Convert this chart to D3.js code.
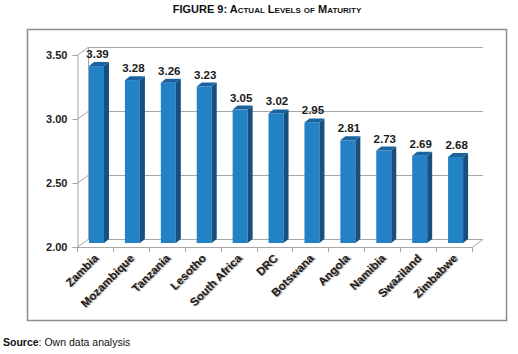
<!DOCTYPE html>
<html>
<head>
<meta charset="utf-8" />
<script src="https://d3js.org/d3.v7.min.js"></script>
<style>
  body { margin: 0; background: #fff; }
  svg { display: block; font-family: Arial, "Liberation Sans", sans-serif; }
</style>
</head>
<body>
<div id="visu"></div>
<script>
  // Données
  const pays = ["Zambia", "Mozambique", "Tanzania", "Lesotho", "South Africa", "DRC",
                "Botswana", "Angola", "Namibia", "Swaziland", "Zimbabwe"];
  const niveaux = [3.39, 3.28, 3.26, 3.23, 3.05, 3.02, 2.95, 2.81, 2.73, 2.69, 2.68];
  const graduations = [2.00, 2.50, 3.00, 3.50];

  const largeur = 518, hauteur = 354;
  const prof = {dx: 11, dy: -8}; // profondeur 3D

  const svg = d3.select('#visu').append('svg')
    .attr('width', largeur).attr('height', hauteur);

  // Titre
  svg.append('text')
    .attr('x', 267).attr('y', 13)
    .attr('text-anchor', 'middle')
    .attr('font-size', 11).attr('font-weight', 'bold')
    .style('font-variant', 'small-caps')
    .attr('fill', '#111')
    .text('FIGURE 9: Actual Levels of Maturity');

  // Cadre
  svg.append('rect')
    .attr('x', 27.5).attr('y', 29.5).attr('width', 479).attr('height', 291)
    .attr('fill', '#fff').attr('stroke', '#8c8c8c').attr('stroke-width', 1.5);

  // Echelles (face avant)
  const x = d3.scaleBand().domain(pays).range([77, 472]).paddingInner(0).paddingOuter(0);
  const y = d3.scaleLinear().domain([2, 3.5]).range([247, 55]);

  const grille = svg.append('g').attr('stroke', '#a6a6a6').attr('fill', 'none').attr('stroke-width', 1);

  // Mur du fond et lignes de grille
  graduations.forEach(v => {
    const yy = Math.round(y(v)) + 0.5;
    grille.append('line')
      .attr('x1', 77 + prof.dx).attr('x2', 472 + prof.dx)
      .attr('y1', yy + prof.dy).attr('y2', yy + prof.dy);
    grille.append('line')
      .attr('x1', 77).attr('x2', 77 + prof.dx)
      .attr('y1', yy).attr('y2', yy + prof.dy);
  });
  // Mur gauche
  grille.append('line')
    .attr('x1', 77 + prof.dx + 0.5).attr('x2', 77 + prof.dx + 0.5)
    .attr('y1', y(3.5) + prof.dy).attr('y2', y(2) + prof.dy);
  // Sol
  grille.append('line')
    .attr('x1', 472).attr('x2', 472 + prof.dx)
    .attr('y1', y(2) + 0.5).attr('y2', y(2) + 0.5 + prof.dy);

  // Axe Y
  const axeY = d3.axisLeft(y).tickValues(graduations).tickFormat(d3.format('.2f')).tickSize(5).tickPadding(5);
  svg.append('g')
    .attr('transform', 'translate(77.5,0)')
    .call(axeY)
    .call(g => g.select('.domain').attr('stroke', '#a6a6a6'))
    .call(g => g.selectAll('.tick line').attr('stroke', '#a6a6a6'))
    .call(g => g.selectAll('text').attr('font-size', 11).attr('font-weight', 'bold')
      .attr('fill', '#222').attr('font-family', 'Arial, "Liberation Sans", sans-serif'));

  // Axe X
  const bornes = pays.map(p => x(p)).concat([472]);
  const axeX = svg.append('g');
  axeX.append('line')
    .attr('x1', 77).attr('x2', 472)
    .attr('y1', y(2) + 0.5).attr('y2', y(2) + 0.5)
    .attr('stroke', '#a6a6a6');
  bornes.forEach(b => {
    axeX.append('line')
      .attr('x1', Math.round(b) + 0.5).attr('x2', Math.round(b) + 0.5)
      .attr('y1', y(2)).attr('y2', y(2) + 5)
      .attr('stroke', '#a6a6a6');
  });

  // Barres 3D
  const largBarre = 15, dBarre = {dx: 5, dy: -4};
  const barres = svg.append('g').selectAll('g').data(pays).join('g');
  barres.each(function(p, i) {
    const g = d3.select(this);
    const x0 = x(p) + 12, x1 = x0 + largBarre;
    const yh = y(niveaux[i]) - 3, yb = y(2) - 4;
    // face avant
    g.append('rect').attr('x', x0).attr('y', yh).attr('width', largBarre).attr('height', yb - yh)
      .attr('fill', '#2381c6');
    // côté
    g.append('path')
      .attr('d', `M${x1},${yh}L${x1 + dBarre.dx},${yh + dBarre.dy}L${x1 + dBarre.dx},${yb + dBarre.dy}L${x1},${yb}Z`)
      .attr('fill', '#17507f');
    // dessus
    g.append('path')
      .attr('d', `M${x0},${yh}L${x0 + dBarre.dx},${yh + dBarre.dy}L${x1 + dBarre.dx},${yh + dBarre.dy}L${x1},${yh}Z`)
      .attr('fill', '#1b63a0');
    // étiquette
    g.append('text')
      .attr('x', x0 + largBarre / 2 + 1).attr('y', yh - 8)
      .attr('text-anchor', 'middle')
      .attr('font-size', 11.5).attr('font-weight', 'bold').attr('fill', '#1a1a1a')
      .text(niveaux[i].toFixed(2));
  });

  // Etiquettes de l'axe X
  svg.append('g').selectAll('text').data(pays).join('text')
    .attr('transform', p => `translate(${x(p) + x.bandwidth() / 2 + 4},${y(2) + 12}) rotate(-45)`)
    .attr('text-anchor', 'end')
    .attr('font-size', 11.5).attr('font-weight', 'bold')
    .attr('fill', '#1a1a1a')
    .style('text-shadow', '1px 1px 1px #999')
    .text(p => p);

  // Source
  const source = svg.append('text').attr('x', 3).attr('y', 346).attr('font-size', 10.5).attr('fill', '#111');
  source.append('tspan').attr('font-weight', 'bold').text('Source');
  source.append('tspan').text(': Own data analysis');
</script>
</body>
</html>
